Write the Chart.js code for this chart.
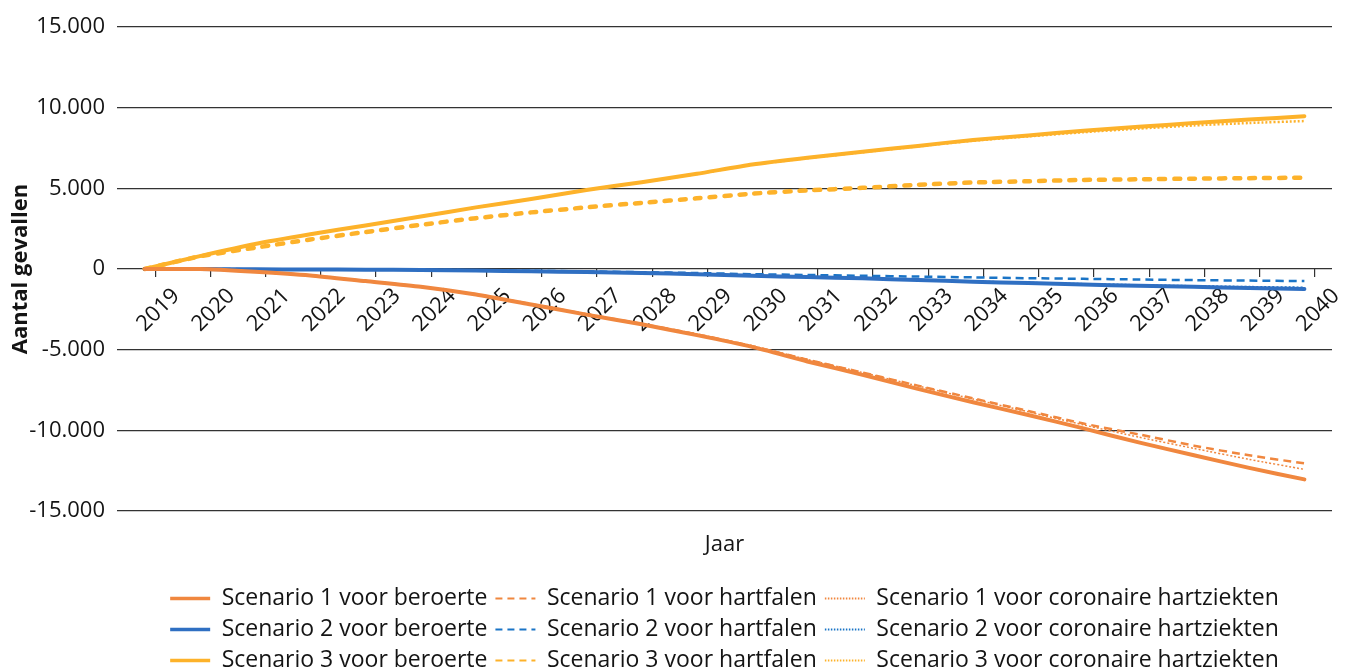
<!DOCTYPE html>
<html>
<head>
<meta charset="utf-8">
<title>Aantal gevallen per scenario</title>
<script src="https://cdn.jsdelivr.net/npm/chart.js@4.4.1/dist/chart.umd.min.js"></script>
<style>
    html, body { margin: 0; padding: 0; background: #fff; overflow: hidden; }
    #wrap { position: relative; width: 1352px; height: 682px; }
</style>
</head>
<body>
<div id="wrap"><canvas id="chart"></canvas></div>
<script>
// ——— DATA ———
const years = ['2019', '2020', '2021', '2022', '2023', '2024', '2025', '2026', '2027', '2028', '2029',
    '2030', '2031', '2032', '2033', '2034', '2035', '2036', '2037', '2038', '2039', '2040'];

const s1Beroerte = [0, 0, -170, -400, -750, -1100, -1580, -2200, -2830, -3430, -4100, -4830, -5730, -6560, -7430, -8260, -9050, -9880, -10750, -11540, -12330, -13040];
const s1Hartfalen = [0, 0, -170, -400, -750, -1100, -1570, -2180, -2800, -3400, -4050, -4780, -5620, -6420, -7230, -8020, -8800, -9580, -10250, -10950, -11550, -12050];
const s1Coronair = [0, 0, -170, -400, -750, -1100, -1570, -2180, -2800, -3400, -4030, -4760, -5600, -6420, -7250, -8060, -8850, -9660, -10420, -11120, -11800, -12420];

const s2Beroerte = [0, 0, -20, -30, -40, -60, -100, -140, -190, -250, -320, -420, -500, -580, -680, -790, -870, -960, -1040, -1100, -1180, -1240];
const s2Hartfalen = [0, 0, -10, -20, -30, -50, -80, -110, -150, -200, -250, -320, -370, -420, -470, -520, -570, -610, -650, -690, -720, -750];
const s2Coronair = [0, 0, -20, -30, -40, -60, -100, -140, -190, -250, -310, -400, -480, -560, -650, -750, -830, -910, -980, -1040, -1090, -1130];

const s3Beroerte = [0, 800, 1550, 2150, 2700, 3250, 3820, 4340, 4900, 5380, 5900, 6480, 6900, 7270, 7630, 8000, 8280, 8570, 8810, 9050, 9260, 9470];
const s3Hartfalen = [0, 780, 1320, 1830, 2290, 2740, 3150, 3510, 3820, 4100, 4380, 4670, 4870, 5030, 5220, 5360, 5440, 5520, 5560, 5600, 5630, 5660];
const s3Coronair = [0, 800, 1550, 2150, 2700, 3250, 3820, 4340, 4900, 5380, 5890, 6460, 6870, 7240, 7600, 7950, 8220, 8480, 8700, 8900, 9050, 9170];

const seriesLabels = [
    'Scenario 1 voor beroerte', 'Scenario 1 voor hartfalen', 'Scenario 1 voor coronaire hartziekten',
    'Scenario 2 voor beroerte', 'Scenario 2 voor hartfalen', 'Scenario 2 voor coronaire hartziekten',
    'Scenario 3 voor beroerte', 'Scenario 3 voor hartfalen', 'Scenario 3 voor coronaire hartziekten'
];

// ——— STYLE ———
const ORANGE = '#f0873f';
const BLUE = '#2f6fc2';
const BLUE_LT = '#1a74c6';
const YELLOW = '#fdb22a';
const INK = '#141414';
const FONT = "'Open Sans', sans-serif";

Chart.defaults.font.family = FONT;
Chart.defaults.color = INK;

function fmt(v) {
    const s = Math.abs(v).toString().replace(/\B(?=(\d{3})+(?!\d))/g, '.');
    return (v < 0 ? '-' : '') + s;
}

// kind: solid / dash / dot
function series(label, data, color, kind, width, cap) {
    const dash = kind === 'solid' ? [] : (kind === 'dot' ? [2, 2] : (cap === 'round' ? [6, 9] : [8, 5]));
    return {
        label, data,
        borderColor: color,
        backgroundColor: color,
        borderWidth: width,
        borderDash: dash,
        borderCapStyle: cap || 'butt',
        pointStyle: 'line',
        pointRadius: 0,
        pointHoverRadius: 0,
        tension: 0.2,
        fill: false,
        kind
    };
}

const datasets = [
    series(seriesLabels[0], s1Beroerte, ORANGE, 'solid', 4, 'round'),
    series(seriesLabels[1], s1Hartfalen, ORANGE, 'dash', 2.5),
    series(seriesLabels[2], s1Coronair, ORANGE, 'dot', 1.5),
    series(seriesLabels[3], s2Beroerte, BLUE, 'solid', 4, 'round'),
    series(seriesLabels[4], s2Hartfalen, BLUE_LT, 'dash', 2.5),
    series(seriesLabels[5], s2Coronair, BLUE_LT, 'dot', 1.5),
    series(seriesLabels[6], s3Beroerte, YELLOW, 'solid', 4, 'round'),
    series(seriesLabels[7], s3Hartfalen, YELLOW, 'dash', 4.5, 'round'),
    series(seriesLabels[8], s3Coronair, YELLOW, 'dot', 2.5)
];

// legend samples are thinner than the plotted lines
function legendLabels(chart) {
    const items = Chart.defaults.plugins.legend.labels.generateLabels(chart);
    return items.map((it, i) => {
        const kind = chart.data.datasets[i].kind;
        it.lineWidth = kind === 'solid' ? 3.5 : 2;
        it.lineDash = kind === 'solid' ? [] : (kind === 'dot' ? [1.5, 1.5] : [7, 5]);
        it.lineCap = 'butt';
        it.fillStyle = 'transparent';
        return it;
    });
}

// ——— CHART ———
new Chart(document.getElementById('chart'), {
    type: 'line',
    data: { labels: years, datasets },
    options: {
        responsive: true,
        maintainAspectRatio: false,
        animation: false,
        layout: { padding: { top: 27, right: 20, left: 0, bottom: 0 } },
        plugins: {
            tooltip: { enabled: false },
            legend: {
                position: 'bottom',
                fullSize: false,
                labels: {
                    usePointStyle: true,
                    pointStyleWidth: 40,
                    padding: 8,
                    color: INK,
                    font: { family: FONT, size: 23 },
                    generateLabels: legendLabels
                }
            }
        },
        scales: {
            x: {
                type: 'category',
                offset: true,
                position: 'bottom',
                grid: { display: false },
                border: { display: false },
                ticks: { display: false },
                title: { display: true, text: 'Jaar', color: INK, font: { family: FONT, size: 22 }, padding: { top: 0, bottom: 21 } },
                afterFit: s => { s.height = 68; }
            },
            // year tick marks and labels sit on the zero line
            xt: {
                type: 'linear',
                axis: 'x',
                position: { y: 0 },
                min: 2018.31,
                max: 2040.31,
                afterBuildTicks: s => { s.ticks = years.map(y => ({ value: +y })); },
                grid: { drawOnChartArea: false, drawTicks: true, tickLength: 8, color: '#333', lineWidth: 1.2 },
                border: { display: false },
                ticks: {
                    autoSkip: false,
                    minRotation: 45,
                    maxRotation: 45,
                    labelOffset: 21,
                    padding: 6,
                    color: INK,
                    font: { family: FONT, size: 22 },
                    callback: v => String(v)
                }
            },
            y: {
                min: -15000,
                max: 15000,
                grid: { color: '#333', lineWidth: 1.2, drawTicks: false },
                border: { display: false },
                ticks: { stepSize: 5000, padding: 12, color: INK, font: { family: FONT, size: 22 }, callback: v => fmt(v) },
                title: { display: true, text: 'Aantal gevallen', color: INK, font: { family: FONT, size: 22, weight: 'bold' }, padding: { top: 8, bottom: 0 } },
                afterFit: s => { s.width = 117; }
            }
        }
    }
});
</script>
</body>
</html>
